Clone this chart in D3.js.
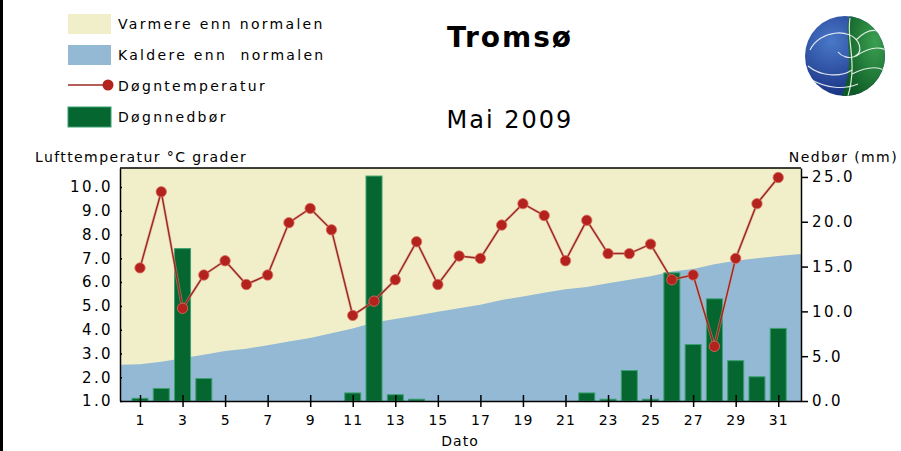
<!DOCTYPE html>
<html>
<head>
<meta charset="utf-8">
<script src="https://cdn.jsdelivr.net/npm/d3@7/dist/d3.min.js"></script>
<style>
  body { margin: 0; background: #fff; }
  svg { display: block; font-family: "DejaVu Sans", sans-serif; }
  .lbl { font-size: 14px; letter-spacing: 2.3px; fill: #000; }
  .ttl { font-size: 14px; letter-spacing: 1.4px; fill: #000; }
  .axis text { font-size: 15px; letter-spacing: 2.4px; fill: #000; font-family: "DejaVu Sans", sans-serif; }
  .axis path, .axis line { stroke: #000; stroke-width: 1.5; }
</style>
</head>
<body>
<div id="graph"></div>
<script>
// Tromsø, Mai 2009
const days = d3.range(1, 32);
const temperature = [6.6, 9.8, 4.9, 6.3, 6.9, 5.9, 6.3, 8.5, 9.1, 8.2,
                     4.6, 5.2, 6.1, 7.7, 5.9, 7.1, 7.0, 8.4, 9.3, 8.8,
                     6.9, 8.6, 7.2, 7.2, 7.6, 6.1, 6.3, 3.3, 7.0, 9.3, 10.4];
const precipitation = [0.3, 1.4, 17.0, 2.5, 0, 0, 0, 0, 0, 0,
                       0.9, 25.1, 0.7, 0.2, 0, 0, 0, 0, 0, 0,
                       0, 0.9, 0.2, 3.4, 0.2, 14.3, 6.3, 11.4, 4.5, 2.7, 8.1];
const normal = [2.55, 2.65, 2.8, 2.95, 3.1, 3.2, 3.35, 3.5, 3.65, 3.85,
                4.05, 4.3, 4.45, 4.6, 4.75, 4.9, 5.05, 5.25, 5.4, 5.55,
                5.7, 5.8, 5.95, 6.1, 6.25, 6.45, 6.55, 6.75, 6.9, 7.0, 7.1];
const tempTicks = [1, 2, 3, 4, 5, 6, 7, 8, 9, 10];
const precTicks = [0, 5, 10, 15, 20, 25];
const dayTicks = [1, 3, 5, 7, 9, 11, 13, 15, 17, 19, 21, 23, 25, 27, 29, 31];

const width = 901, height = 451;
const plot = { left: 120, right: 801, top: 168, bottom: 401 };

const svg = d3.select("#graph").append("svg")
    .attr("width", width)
    .attr("height", height);

// left border of the page
svg.append("rect").attr("x", 0).attr("y", 0).attr("width", 3).attr("height", height).attr("fill", "#000");

const x = d3.scaleLinear().domain([0.06, 32.07]).range([plot.left, plot.right]);
const yT = d3.scaleLinear().domain([1, 10.8]).range([plot.bottom, plot.top]);
const yP = d3.scaleLinear().domain([0, 26]).range([plot.bottom, plot.top]);

// background: warmer than normal
svg.append("rect")
    .attr("x", plot.left).attr("y", plot.top)
    .attr("width", plot.right - plot.left).attr("height", plot.bottom - plot.top)
    .attr("fill", "#f1efc9");

// colder than normal area, extended to the plot edges
const normalPts = days.map((d, i) => ({ day: d, v: normal[i] }));
normalPts.unshift({ day: x.domain()[0], v: normal[0] - 0.03 });
normalPts.push({ day: x.domain()[1], v: normal[normal.length - 1] + 0.08 });
svg.append("path")
    .datum(normalPts)
    .attr("fill", "#93b9d4")
    .attr("d", d3.area().x(d => x(d.day)).y0(plot.bottom).y1(d => yT(d.v)));

// precipitation bars
const barW = 16;
svg.append("g").selectAll("rect")
    .data(days.map((d, i) => ({ day: d, v: precipitation[i] })).filter(d => d.v > 0))
    .join("rect")
    .attr("x", d => x(d.day) - barW / 2)
    .attr("y", d => yP(d.v))
    .attr("width", barW)
    .attr("height", d => plot.bottom - yP(d.v))
    .attr("fill", "#05662f")
    .attr("stroke", "#3aa070")
    .attr("stroke-width", 1);

// temperature line
const tempPts = days.map((d, i) => ({ day: d, v: temperature[i] }));
svg.append("path")
    .datum(tempPts)
    .attr("fill", "none")
    .attr("stroke", "#e8a090")
    .attr("stroke-width", 3)
    .attr("opacity", 0.5)
    .attr("d", d3.line().x(d => x(d.day)).y(d => yT(d.v)));
svg.append("path")
    .datum(tempPts)
    .attr("fill", "none")
    .attr("stroke", "#9b2a22")
    .attr("stroke-width", 1.5)
    .attr("d", d3.line().x(d => x(d.day)).y(d => yT(d.v)));
svg.append("g").selectAll("circle")
    .data(tempPts)
    .join("circle")
    .attr("cx", d => x(d.day))
    .attr("cy", d => yT(d.v))
    .attr("r", 5.2)
    .attr("fill", "#b3221c")
    .attr("stroke", "#d97060")
    .attr("stroke-width", 0.8);

// frame top
svg.append("line")
    .attr("x1", plot.left).attr("x2", plot.right)
    .attr("y1", plot.top).attr("y2", plot.top)
    .attr("stroke", "#000").attr("stroke-width", 1.5);

// axes
const leftAxis = svg.append("g").attr("class", "axis")
    .attr("transform", `translate(${plot.left},0)`)
    .call(d3.axisLeft(yT).tickValues(tempTicks).tickFormat(d3.format(".1f")).tickSizeInner(7).tickSizeOuter(0).tickPadding(0));
leftAxis.selectAll(".tick line").attr("x2", 2);

const rightAxis = svg.append("g").attr("class", "axis")
    .attr("transform", `translate(${plot.right},0)`)
    .call(d3.axisRight(yP).tickValues(precTicks).tickFormat(d3.format(".1f")).tickSizeInner(7).tickSizeOuter(0).tickPadding(4));

const bottomAxis = svg.append("g").attr("class", "axis")
    .attr("transform", `translate(0,${plot.bottom})`)
    .call(d3.axisBottom(x).tickValues(dayTicks).tickFormat(d3.format("d")).tickSizeInner(6).tickSizeOuter(0).tickPadding(8));
bottomAxis.selectAll(".tick line").attr("y1", -6);
bottomAxis.selectAll(".tick text").style("letter-spacing", "1px").style("font-size", "14px");

// axis titles
svg.append("text").attr("class", "ttl").attr("x", 35).attr("y", 162).text("Lufttemperatur °C grader");
svg.append("text").attr("class", "ttl").attr("x", 898).attr("y", 162).attr("text-anchor", "end").text("Nedbør (mm)");
svg.append("text").attr("class", "ttl").attr("x", 460).attr("y", 446).attr("text-anchor", "middle")
    .style("letter-spacing", "1px").text("Dato");

// titles
svg.append("text").attr("x", 510).attr("y", 47).attr("text-anchor", "middle")
    .style("font-size", "28px").style("font-weight", "bold").style("letter-spacing", "2px").text("Tromsø");
svg.append("text").attr("x", 510).attr("y", 128).attr("text-anchor", "middle")
    .style("font-size", "24px").style("letter-spacing", "2px").text("Mai 2009");

// legend
const legendItems = [
    { name: "Varmere enn normalen", type: "rect", color: "#f1efc9" },
    { name: "Kaldere enn  normalen", type: "rect", color: "#93b9d4" },
    { name: "Døgntemperatur", type: "line", color: "#b3221c" },
    { name: "Døgnnedbør", type: "rect", color: "#05662f" }
];
const legend = svg.append("g");
legendItems.forEach((item, i) => {
    const cy = 24 + i * 31;
    if (item.type === "rect") {
        legend.append("rect").attr("x", 68).attr("y", cy - 10).attr("width", 43).attr("height", 20)
            .attr("fill", item.color)
            .attr("stroke", item.color === "#05662f" ? "#3aa070" : "none");
    } else {
        legend.append("line").attr("x1", 68).attr("x2", 108).attr("y1", cy - 1).attr("y2", cy - 1)
            .attr("stroke", "#9b2a22").attr("stroke-width", 1.5);
        legend.append("circle").attr("cx", 108).attr("cy", cy - 1).attr("r", 5.5).attr("fill", item.color);
    }
    legend.append("text").attr("class", "lbl").attr("x", 118).attr("y", cy + 5)
        .style("white-space", "pre").attr("xml:space", "preserve").text(item.name);
});

// logo globe
const defs = svg.append("defs");
defs.append("clipPath").attr("id", "globe").append("circle").attr("cx", 845).attr("cy", 56).attr("r", 40);
const gBlue = defs.append("radialGradient").attr("id", "gblue").attr("cx", "35%").attr("cy", "35%").attr("r", "70%");
gBlue.append("stop").attr("offset", "0%").attr("stop-color", "#4a78c8");
gBlue.append("stop").attr("offset", "100%").attr("stop-color", "#12287a");
const gGreen = defs.append("radialGradient").attr("id", "ggreen").attr("cx", "70%").attr("cy", "35%").attr("r", "70%");
gGreen.append("stop").attr("offset", "0%").attr("stop-color", "#3aa050");
gGreen.append("stop").attr("offset", "100%").attr("stop-color", "#0d5a25");
const logo = svg.append("g").attr("clip-path", "url(#globe)");
logo.append("rect").attr("x", 800).attr("y", 10).attr("width", 90).attr("height", 90).attr("fill", "url(#gblue)");
logo.append("path").attr("d", "M850,14 C842,40 858,60 840,100 L890,100 L890,10 Z").attr("fill", "url(#ggreen)");
const swirl = [
    "M810,50 C820,30 850,28 858,42 C866,58 846,62 838,52",
    "M808,66 C820,76 840,78 852,70",
    "M812,80 C826,88 844,90 858,84",
    "M850,18 C846,40 858,62 848,96",
    "M856,40 C866,30 876,28 884,34",
    "M856,56 C868,48 878,46 886,50",
    "M852,74 C864,68 876,66 884,70"
];
logo.selectAll("path.swirl").data(swirl).join("path").attr("class", "swirl")
    .attr("d", d => d).attr("fill", "none").attr("stroke", "#fff").attr("stroke-width", 1.2).attr("opacity", 0.85);
</script>
</body>
</html>
